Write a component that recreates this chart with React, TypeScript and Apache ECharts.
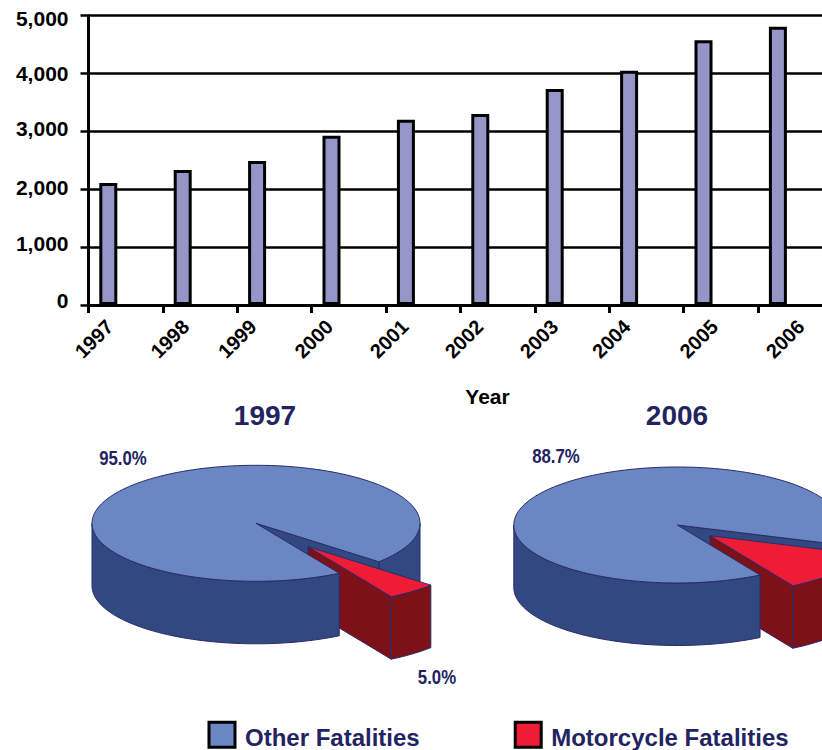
import React, { useEffect, useRef } from "react";
import * as echarts from "echarts";

const years = ["1997", "1998", "1999", "2000", "2001", "2002", "2003", "2004", "2005", "2006"];
const fatalities = [2110, 2335, 2490, 2925, 3200, 3300, 3735, 4050, 4575, 4810];
const yTicks = ["0", "1,000", "2,000", "3,000", "4,000", "5,000"];
const pieYears = ["1997", "2006"];
const otherShare = [95.0, 88.7];
const motoShare = [5.0, 11.3];

const BLACK = "#000000";
const NAVY = "#232362";
const OUTLINE = "#2b2a6b";
const BLUE_TOP = "#6a87c3";
const BLUE_WALL = "#324880";
const RED_TOP = "#ee1c35";
const RED_WALL = "#7c1118";
const BAR_FILL = "#9595c8";
const SANS = "'Liberation Sans', Arial, sans-serif";

const yLabelShift = [-5, -4, -2, -3, 0, 3];
const xLabelShift = [5.5, 7, 0, 2, 3, 3.5, 4, 2, 15, 27];

const pieLayouts = [
  { cx: 256, cy: 523.3, rx: 164, ry: 58, depth: 62.5, cutEnd: 59.5, dx: 52, dy: 23.4,
    otherLabel: [123, 458], motoLabel: [437, 677] },
  { cx: 677.3, cy: 525, rx: 163.5, ry: 58, depth: 62.5, cutEnd: 59.6, dx: 32.7, dy: 10.7,
    otherLabel: [556, 456], motoLabel: null as null | number[] },
];

type P = number[];
function arc(cx: number, cy: number, rx: number, ry: number, from: number, to: number): P[] {
  const n = Math.max(2, Math.ceil(Math.abs(to - from) / 2));
  const out: P[] = [];
  for (let i = 0; i <= n; i++) {
    const t = ((from + ((to - from) * i) / n) * Math.PI) / 180;
    out.push([cx + rx * Math.cos(t), cy + ry * Math.sin(t)]);
  }
  return out;
}
const drop = (pts: P[], d: number) => pts.map((p) => [p[0], p[1] + d]);
const poly = (points: P[], fill: string, z2: number) => ({
  type: "polygon",
  z2,
  shape: { points },
  style: { fill, stroke: OUTLINE, lineWidth: 1, lineJoin: "round" },
});
const pct = (text: string, at: P, z2: number) => ({
  type: "text",
  z2,
  x: at[0],
  y: at[1],
  scaleX: 0.8,
  style: {
    text,
    fill: NAVY,
    fontFamily: SANS,
    fontWeight: "bold",
    fontSize: 21,
    align: "center",
    verticalAlign: "middle",
  },
});

function renderOther(params: any, api: any) {
  const L = pieLayouts[params.dataIndex];
  const share = api.value(0);
  const start = L.cutEnd;
  const end = start + share * 3.6;
  const cut = end - 360; // where the slice's far cut lies, measured from the right
  const c: P = [L.cx, L.cy];
  const back = arc(L.cx, L.cy, L.rx, L.ry, 0, cut);
  const cutPoint = back[back.length - 1];
  const front = arc(L.cx, L.cy, L.rx, L.ry, start, 180);
  const top = arc(L.cx, L.cy, L.rx, L.ry, start, end);
  return {
    type: "group",
    children: [
      poly([...back, ...drop(back, L.depth).reverse()], BLUE_WALL, 1),
      poly([c, cutPoint, ...drop([cutPoint, c], L.depth)], BLUE_WALL, 1),
      poly([...front, ...drop(front, L.depth).reverse()], BLUE_WALL, 5),
      poly([c, ...top], BLUE_TOP, 6),
      pct(`${share.toFixed(1)}%`, L.otherLabel, 7),
    ],
  };
}

function renderMoto(params: any, api: any) {
  const L = pieLayouts[params.dataIndex];
  const share = api.value(0);
  const end = L.cutEnd;
  const start = end - share * 3.6;
  const ax = L.cx + L.dx;
  const ay = L.cy + L.dy;
  const a: P = [ax, ay];
  const rim = arc(ax, ay, L.rx, L.ry, start, end);
  const last = rim[rim.length - 1];
  const children: any[] = [
    poly([a, last, ...drop([last, a], L.depth)], RED_WALL, 2),
    poly([...rim, ...drop(rim, L.depth).reverse()], RED_WALL, 3),
    poly([a, ...rim], RED_TOP, 4),
  ];
  if (L.motoLabel) children.push(pct(`${share.toFixed(1)}%`, L.motoLabel, 7));
  return { type: "group", children };
}

const BAND = 74.4;
const GRID_LEFT = 88.5;
const GRID_TOP = 15.7;
const GRID_H = 289.3;

// Rotated tick labels: padding that slides a 45-degree label sideways without moving it up or down.
const LABEL_HALF = 10;
const LABEL_BASE = 12;
function xLabelPadding(dx: number) {
  const a = (1.414 * dx - LABEL_HALF - LABEL_BASE) / 2;
  return [Math.max(0, LABEL_BASE + a), a < 0 ? -2 * a : 0, 0, a > 0 ? 2 * a : 0];
}

function buildOption() {
  const yRich: Record<string, any> = {};
  yTicks.forEach((_, i) => {
    const s = yLabelShift[i];
    yRich[`t${i}`] = {
      fontFamily: SANS,
      fontWeight: "bold",
      fontSize: 21,
      color: BLACK,
      padding: s < 0 ? [0, 0, -2 * s, 0] : [2 * s, 0, 0, 0],
    };
  });
  return {
    animation: false,
    backgroundColor: "#ffffff",
    title: pieYears.map((y, i) => ({
      text: y,
      left: [265, 677][i],
      top: 401,
      padding: 0,
      textAlign: "center",
      textStyle: { color: NAVY, fontFamily: SANS, fontWeight: "bold", fontSize: 28 },
    })),
    grid: {
      left: GRID_LEFT,
      top: GRID_TOP,
      width: BAND * 10,
      height: GRID_H,
      containLabel: false,
      outerBoundsMode: "none",
    },
    legend: {
      left: 207.5,
      top: 720.8,
      padding: 0,
      itemWidth: 26,
      itemHeight: 25,
      itemGap: 94,
      selectedMode: false,
      formatter: "{a|{name}}",
      textStyle: {
        rich: {
          a: {
            color: NAVY,
            fontFamily: SANS,
            fontWeight: "bold",
            fontSize: 24,
            padding: [6, 0, 0, 5],
          },
        },
      },
      data: [
        { name: "Other Fatalities", icon: "rect", itemStyle: { color: BLUE_TOP, borderColor: BLACK, borderWidth: 3 } },
        { name: "Motorcycle Fatalities", icon: "rect", itemStyle: { color: RED_TOP, borderColor: BLACK, borderWidth: 3 } },
      ],
    },
    xAxis: [
      {
        type: "category",
        data: years,
        boundaryGap: true,
        name: "Year",
        nameLocation: "middle",
        nameGap: 81,
        nameTextStyle: { color: BLACK, fontFamily: SANS, fontWeight: "bold", fontSize: 21, padding: [0, 0, 0, 54] },
        axisLine: { lineStyle: { color: BLACK, width: 3 } },
        axisTick: { show: true, length: 8, lineStyle: { color: BLACK, width: 3 } },
        axisLabel: { show: false },
        splitLine: { show: false },
      },
      {
        type: "category",
        position: "bottom",
        boundaryGap: false,
        data: [
          ...years.map((y, i) => ({
            value: y,
            textStyle: {
              align: "center",
              verticalAlign: "top",
              padding: xLabelPadding(xLabelShift[i]),
            },
          })),
          "",
        ],
        axisLine: { show: false },
        axisTick: { show: false },
        axisLabel: {
          show: true,
          interval: 0,
          rotate: 45,
          margin: 18.4,
          color: BLACK,
          fontFamily: SANS,
          fontWeight: "bold",
          fontSize: 20,
        },
      },
    ],
    yAxis: {
      type: "value",
      min: 0,
      max: 5000,
      interval: 1000,
      axisLine: { show: true, lineStyle: { color: BLACK, width: 3 } },
      axisTick: { show: true, length: 8, lineStyle: { color: BLACK, width: 2.5 } },
      splitLine: { show: true, lineStyle: { color: BLACK, width: 2.5 } },
      axisLabel: {
        margin: 20,
        formatter: (v: number) => `{t${v / 1000}|${yTicks[v / 1000]}}`,
        rich: yRich,
      },
    },
    series: [
      {
        name: "Fatalities",
        type: "bar",
        xAxisIndex: 0,
        data: fatalities,
        barWidth: 18,
        barGap: 0,
        itemStyle: { color: BAR_FILL, borderColor: BLACK, borderWidth: 3 },
      },
      {
        name: "spacer",
        type: "bar",
        xAxisIndex: 0,
        data: [],
        barWidth: 34.8,
        barGap: 0,
        silent: true,
      },
      {
        name: "Other Fatalities",
        type: "custom",
        coordinateSystem: "none",
        renderItem: renderOther,
        data: otherShare.map((v) => [v]),
        itemStyle: { color: BLUE_TOP },
      },
      {
        name: "Motorcycle Fatalities",
        type: "custom",
        coordinateSystem: "none",
        renderItem: renderMoto,
        data: motoShare.map((v) => [v]),
        itemStyle: { color: RED_TOP },
      },
    ],
  };
}

export default function App() {
  const ref = useRef<HTMLDivElement>(null);
  useEffect(() => {
    document.body.style.margin = "0";
    const chart = echarts.init(ref.current!, undefined, { renderer: "svg" });
    chart.setOption(buildOption() as any);
    return () => chart.dispose();
  }, []);
  return <div ref={ref} style={{ width: 822, height: 750 }} />;
}
